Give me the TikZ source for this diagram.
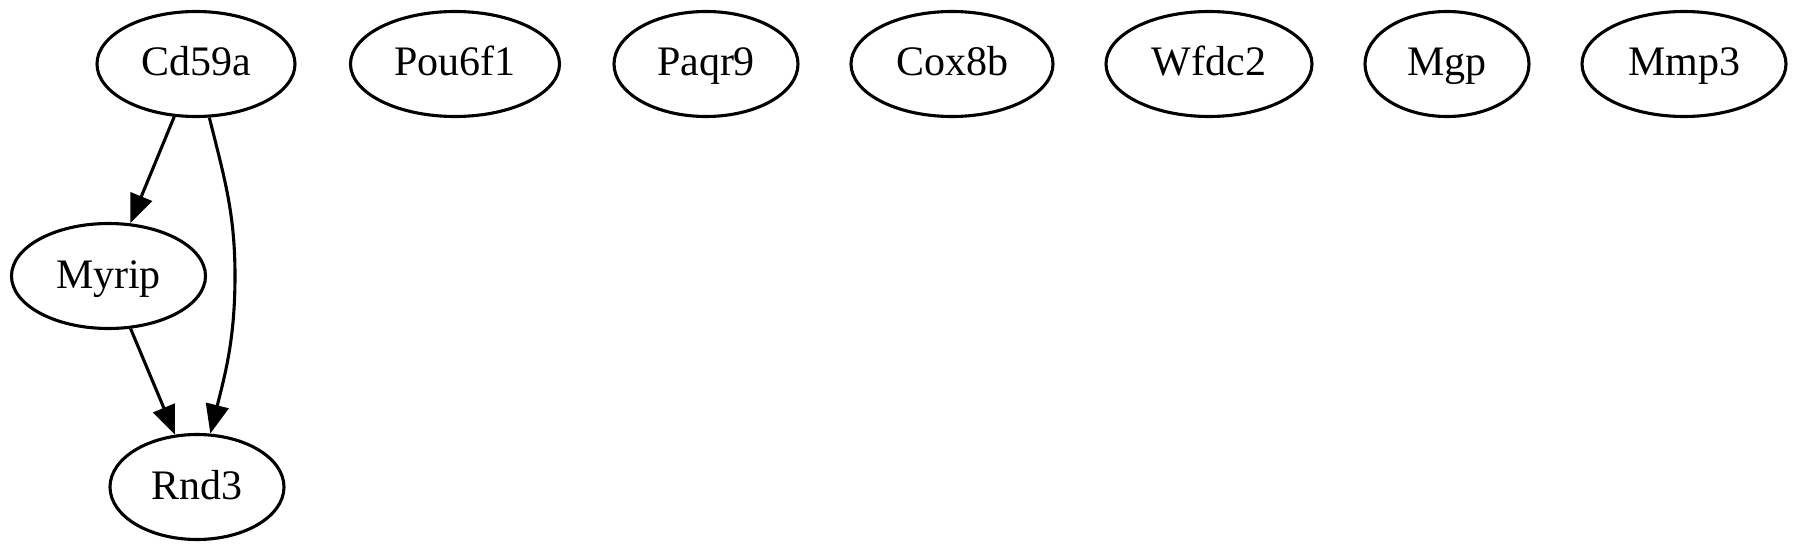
\documentclass[tikz,border=0pt]{standalone}
\usepackage{fontspec}
\setmainfont{Liberation Serif}
\usetikzlibrary{shapes.geometric,arrows.meta}
\begin{document}
\begin{tikzpicture}[x=1pt,y=1pt,
  gnode/.style={draw, ellipse, line width=3.1pt, inner sep=0pt, minimum height=105pt,
    font=\fontsize{42}{50}\selectfont, text height=30pt, text depth=6pt},
  edge/.style={line width=3.1pt, -{Triangle[length=29pt,width=23pt]}}]
\useasboundingbox (0,0) rectangle (1800,-551);
\node[gnode, minimum width=198pt] (Cd59a) at (196,-64) {Cd59a};
\node[gnode, minimum width=209pt] (Pou6f1) at (455,-64) {Pou6f1};
\node[gnode, minimum width=184pt] (Paqr9) at (706,-64) {Paqr9};
\node[gnode, minimum width=202pt] (Cox8b) at (952,-64) {Cox8b};
\node[gnode, minimum width=206pt] (Wfdc2) at (1209,-64) {Wfdc2};
\node[gnode, minimum width=164pt] (Mgp) at (1447,-64) {Mgp};
\node[gnode, minimum width=204pt] (Mmp3) at (1684,-64) {Mmp3};
\node[gnode, minimum width=194pt] (Myrip) at (108.5,-276) {Myrip};
\node[gnode, minimum width=174pt] (Rnd3) at (197,-487) {Rnd3};
\coordinate (mid) at (235,-276);
\draw[edge] (Cd59a) -- (Myrip);
\draw[edge] (Myrip) -- (Rnd3);
\draw[edge] (Cd59a) to[out=-76,in=90] (mid) to[out=-90,in=76] (Rnd3);
\end{tikzpicture}
\end{document}
